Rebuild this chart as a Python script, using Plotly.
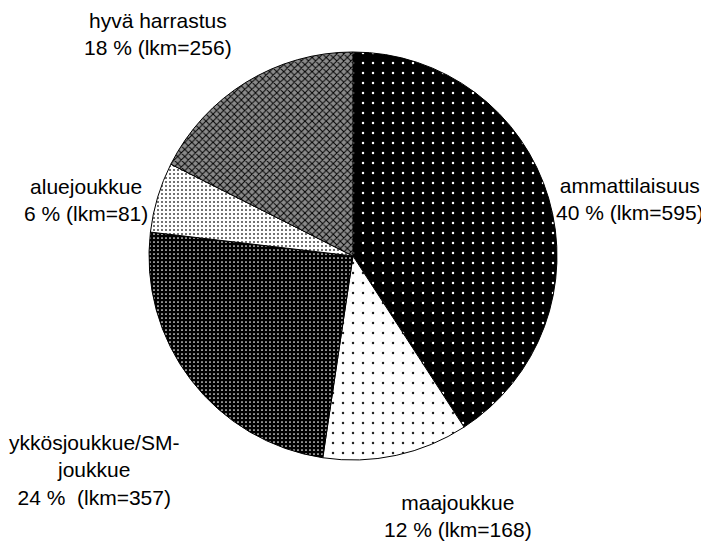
import plotly.graph_objects as go

labels = ["ammattilaisuus", "maajoukkue", "ykkösjoukkue/SM-<br>joukkue", "aluejoukkue", "hyvä harrastus"]
counts = [595, 168, 357, 81, 256]
percents = [40, 12, 24, 6, 18]

# page offset (browser body margin)
OFF = 8
W, H = 709 - OFF, 545 - OFF

# label positions in page pixels (center of text block)
label_px = [(630, 199), (458, 516), (94, 470), (86, 200), (158, 34)]
separators = [" ", " ", "&nbsp; ", " ", " "]

cx, cy, r = 353 - OFF, 256 - OFF, 204

patterns = [
    dict(shape=".", bgcolor="black", fgcolor="white", size=10, solidity=0.05),
    dict(shape=".", bgcolor="white", fgcolor="#222222", size=10, solidity=0.05),
    dict(shape=".", bgcolor="black", fgcolor="white", size=4, solidity=0.15),
    dict(shape=".", bgcolor="white", fgcolor="#444444", size=4, solidity=0.2),
    dict(shape="x", bgcolor="#8a8a8a", fgcolor="black", size=5, solidity=0.35),
]

fig = go.Figure(go.Pie(
    values=counts,
    labels=[l.replace("<br>", "") for l in labels],
    sort=False,
    direction="clockwise",
    rotation=0,
    textinfo="none",
    hoverinfo="skip",
    showlegend=False,
    marker=dict(
        colors=[p["bgcolor"] for p in patterns],
        line=dict(color="black", width=1),
        pattern=dict(
            shape=[p["shape"] for p in patterns],
            bgcolor=[p["bgcolor"] for p in patterns],
            fgcolor=[p["fgcolor"] for p in patterns],
            size=[p["size"] for p in patterns],
            solidity=[p["solidity"] for p in patterns],
        ),
    ),
    domain=dict(x=[(cx - r) / W, (cx + r) / W], y=[1 - (cy + r) / H, 1 - (cy - r) / H]),
))

for lab, n, pct, (px, py), sep in zip(labels, counts, percents, label_px, separators):
    fig.add_annotation(
        x=(px - OFF) / W, y=1 - (py - OFF) / H, xref="paper", yref="paper",
        text=f"{lab}<br>{pct} %{sep}(lkm={n})",
        showarrow=False, align="center", xanchor="center", yanchor="middle",
        font=dict(family="Liberation Sans, Arial, sans-serif", size=21, color="black"),
    )

fig.update_layout(
    width=W, height=H,
    margin=dict(l=0, r=0, t=0, b=0),
    paper_bgcolor="white", plot_bgcolor="white",
)

fig.write_html("out.html")
